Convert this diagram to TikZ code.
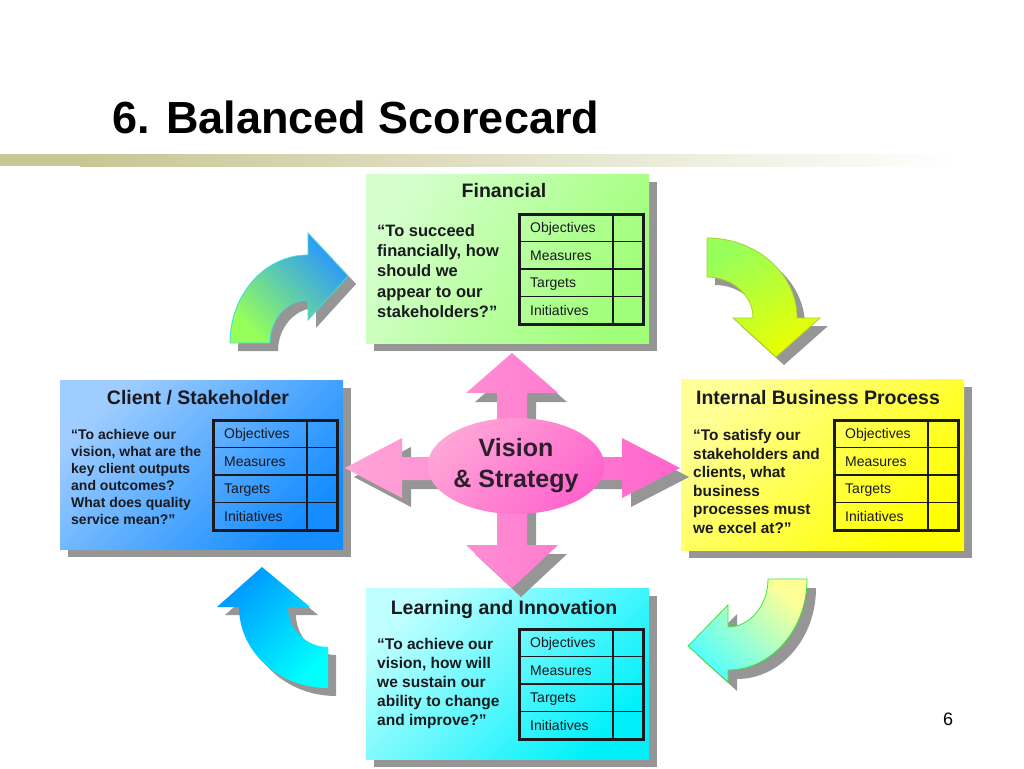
\documentclass[tikz,border=0pt]{standalone}
\usepackage{fontspec}
\setmainfont{Liberation Sans}
\usetikzlibrary{shapes.geometric,shadows}
\definecolor{shadowgray}{RGB}{150,150,150}
\definecolor{txt}{RGB}{25,25,30}
\definecolor{barolive}{RGB}{200,198,148}
\definecolor{finA}{RGB}{212,255,204}
\definecolor{finB}{RGB}{160,255,120}
\definecolor{cliA}{RGB}{160,205,255}
\definecolor{cliB}{RGB}{20,140,255}
\definecolor{intA}{RGB}{255,255,150}
\definecolor{intB}{RGB}{255,255,0}
\definecolor{lrnA}{RGB}{190,255,255}
\definecolor{lrnB}{RGB}{0,240,250}
\definecolor{pinkA}{RGB}{255,165,215}
\definecolor{pinkB}{RGB}{255,100,205}
\definecolor{arGreen}{RGB}{150,255,90}
\definecolor{arBlue}{RGB}{40,150,255}
\definecolor{arYellow}{RGB}{235,255,0}
\definecolor{arCyan}{RGB}{80,255,255}
\definecolor{arSky}{RGB}{0,150,255}
\definecolor{arAqua}{RGB}{0,255,255}
\tikzset{
  sdw/.style={drop shadow={shadow xshift=8pt,shadow yshift=-8pt,fill=shadowgray,opacity=1}},
  box/.style={rectangle,inner sep=0,draw=none,sdw},
  boxtitle/.style={anchor=base,inner sep=0,text=txt,font=\bfseries\fontsize{19.5}{22}\selectfont},
  quote/.style={anchor=base west,inner sep=0,text=txt},
  tabtext/.style={anchor=base west,inner sep=0,text=txt,font=\fontsize{14}{16}\selectfont},
  tabinner/.style={draw=txt,line width=1.4pt},
  tabouter/.style={draw=txt,line width=3pt},
}
\newcommand\sctable[3]{%
  \draw[tabinner] (#2+94,#3) -- (#2+94,#3+110);
  \foreach \k in {1,2,3} \draw[tabinner] (#2,#3+27.5*\k) -- (#2+124,#3+27.5*\k);
  \draw[tabouter] (#2,#3) rectangle (#2+124,#3+110);
  \foreach \t [count=\k] in {Objectives,Measures,Targets,Initiatives}
    \node[tabtext] (#1\k) at (#2+11,#3+27.5*\k-8.75) {\t};
}
\begin{document}
\begin{tikzpicture}[x=1pt,y=-1pt]
\useasboundingbox (0,0) rectangle (1024,768);
\fill[white] (0,0) rectangle (1024,768);
% title
\node[anchor=base west,inner sep=0,font=\bfseries\fontsize{45}{50}\selectfont] (title) at (112,133) {6. Balanced Scorecard};
\fill[barolive] (0,154) rectangle (80,166);
\shade[left color=barolive,right color=white] (80,154) rectangle (960,166);
% boxes
\node[box,top color=finA,bottom color=finB,shading angle=60,minimum width=283pt,minimum height=169pt] (fin) at (507.5,258.5) {};
\node[box,top color=cliA,bottom color=cliB,shading angle=45,minimum width=283pt,minimum height=169pt] (cli) at (201.5,464.5) {};
\node[box,top color=intA,bottom color=intB,shading angle=45,minimum width=283pt,minimum height=171pt] (int) at (822.5,464.5) {};
\node[box,top color=lrnA,bottom color=lrnB,shading angle=45,minimum width=283pt,minimum height=171pt] (lrn) at (507.5,673.5) {};
% box titles
\node[boxtitle] (fint) at (504,197) {Financial};
\node[boxtitle] (clit) at (198,404) {Client / Stakeholder};
\node[boxtitle] (intt) at (818,404) {Internal Business Process};
\node[boxtitle] (lrnt) at (504,614) {Learning and Innovation};
% quotes
\node[quote] (finq) at (377,236) {\parbox[t]{140pt}{\bfseries\fontsize{16.5}{20.4}\selectfont “To succeed\\financially, how\\should we\\appear to our\\stakeholders?”}};
\node[quote] (cliq) at (71,439) {\parbox[t]{140pt}{\bfseries\fontsize{14}{17}\selectfont “To achieve our\\vision, what are the\\key client outputs\\and outcomes?\\What does quality\\service mean?"}};
\node[quote] (intq) at (693,440.5) {\parbox[t]{140pt}{\bfseries\fontsize{15.4}{18.5}\selectfont “To satisfy our\\stakeholders and\\clients, what\\business\\processes must\\we excel at?”}};
\node[quote] (lrnq) at (377,649) {\parbox[t]{140pt}{\bfseries\fontsize{15.5}{19}\selectfont “To achieve our\\vision, how will\\we sustain our\\ability to change\\and improve?”}};
% tables
\sctable{ft}{519}{214}
\sctable{ct}{213}{420}
\sctable{it}{834}{420}
\sctable{lt}{519}{629}
% curved arrows
\path[drop shadow={shadow xshift=8pt,shadow yshift=-8pt,fill=shadowgray,opacity=1},
  top color=arBlue,bottom color=arGreen,shading angle=-45,draw={rgb,255:red,60;green,220;blue,225},line width=0.8pt]
  (230,343) .. controls (230,294.4) and (264.9,255) .. (308,255) -- (308,233) -- (348,276) -- (308,320) -- (308,300)
  .. controls (287,300) and (270,319.3) .. (270,343) -- cycle;
\path[drop shadow={shadow xshift=8pt,shadow yshift=-8pt,fill=shadowgray,opacity=1},
  top color=arGreen,bottom color=arYellow,shading angle=30,draw={rgb,255:red,170;green,210;blue,40},line width=0.8pt]
  (707,238) .. controls (756.7,238) and (797,273.8) .. (797,318) -- (820,318) -- (776,357) -- (733,318) -- (753,318)
  .. controls (753,295.4) and (732.4,277) .. (707,277) -- cycle;
\path[drop shadow={shadow xshift=9pt,shadow yshift=-9pt,fill=shadowgray,opacity=1},
  top color=intA,bottom color=arCyan,shading angle=-45,draw={rgb,255:red,60;green,230;blue,60},line width=0.8pt]
  (807,579) .. controls (807,629.2) and (771.6,670) .. (728,670) -- (728,682) -- (688,646) -- (728,605) -- (728,627)
  .. controls (750.1,627) and (768,605.5) .. (768,579) -- cycle;
\path[drop shadow={shadow xshift=8pt,shadow yshift=-8pt,fill=shadowgray,opacity=1},
  top color=arSky,bottom color=arAqua,shading angle=45]
  (328,688) .. controls (278.9,688) and (239,651.7) .. (239,607) -- (217,607) -- (262,567) -- (310,607) -- (288,607)
  .. controls (288,629.1) and (305.9,647) .. (328,647) -- cycle;
% central four-way arrow
\path[drop shadow={shadow xshift=9pt,shadow yshift=-9pt,fill=shadowgray,opacity=1},
  left color=pinkA,right color=pinkB]
  (512,353) -- (558,393) -- (527,393) -- (527,457) -- (622,457) -- (622,438) -- (680,468) -- (622,498) -- (622,480)
  -- (527,480) -- (527,545) -- (558,545) -- (512,588) -- (466,545) -- (497,545) -- (497,480) -- (402,480)
  -- (402,498) -- (345,468) -- (402,438) -- (402,457) -- (497,457) -- (497,393) -- (466,393) -- cycle;
\node[ellipse,inner sep=0,minimum width=168pt,minimum height=96pt,top color=pinkA,bottom color=pinkB,shading angle=45,
  align=center,text={rgb,255:red,45;green,30;blue,45},font=\bfseries\fontsize{25}{31}\selectfont] (vis) at (516,466) {Vision\\\& Strategy};
% page number
\node[anchor=base,inner sep=0,font=\fontsize{18}{20}\selectfont] (pg) at (948,725) {6};
\end{tikzpicture}
\end{document}
